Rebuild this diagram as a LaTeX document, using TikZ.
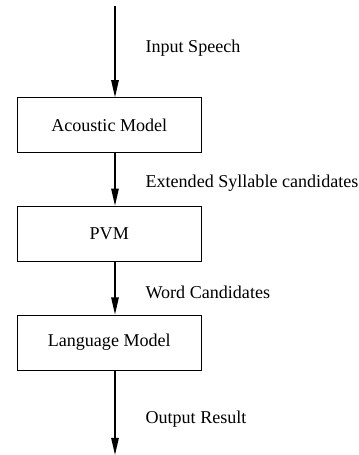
\documentclass[tikz,border=0pt]{standalone}
\usepackage{fontspec}
\setmainfont{Liberation Serif}
\usetikzlibrary{arrows.meta,positioning}

\begin{document}
\begin{tikzpicture}[
  box/.style={draw, line width=0.9pt, minimum width=6.42cm, minimum height=1.93cm, align=center, font=\fontsize{18}{21}\selectfont},
  lbl/.style={anchor=west, font=\fontsize{18}{21}\selectfont},
  arrow/.style={-{Triangle[length=6mm,width=2.6mm]}, line width=1.4pt}
]
\useasboundingbox (0,0) rectangle (12.565,-15.925);
% processing chain (one column, arrows run off-centre)
\coordinate (in) at (4.025,-0.21);
\node[box] (am) at (3.824,-4.386) {Acoustic Model};
\node[box] (pvm) at (3.824,-8.18) {PVM};
\node[box] (lm) at (3.824,-11.99) {Language Model};
\coordinate (out) at (4.025,-15.925);
% connectors between stages
\draw[arrow] (in) -- (am.north -| in);
\draw[arrow] (am.south -| in) -- (pvm.north -| in);
\draw[arrow] (pvm.south -| in) -- (lm.north -| in);
\draw[arrow] (lm.south -| in) -- (out);
% edge labels
\node[lbl] (l1) at (4.97,-1.68) {Input Speech};
\node[lbl] (l2) at (4.97,-6.405) {Extended Syllable candidates};
\node[lbl] (l3) at (4.97,-10.245) {Word Candidates};
\node[lbl] (l4) at (4.97,-14.665) {Output Result};
\end{tikzpicture}
\end{document}
